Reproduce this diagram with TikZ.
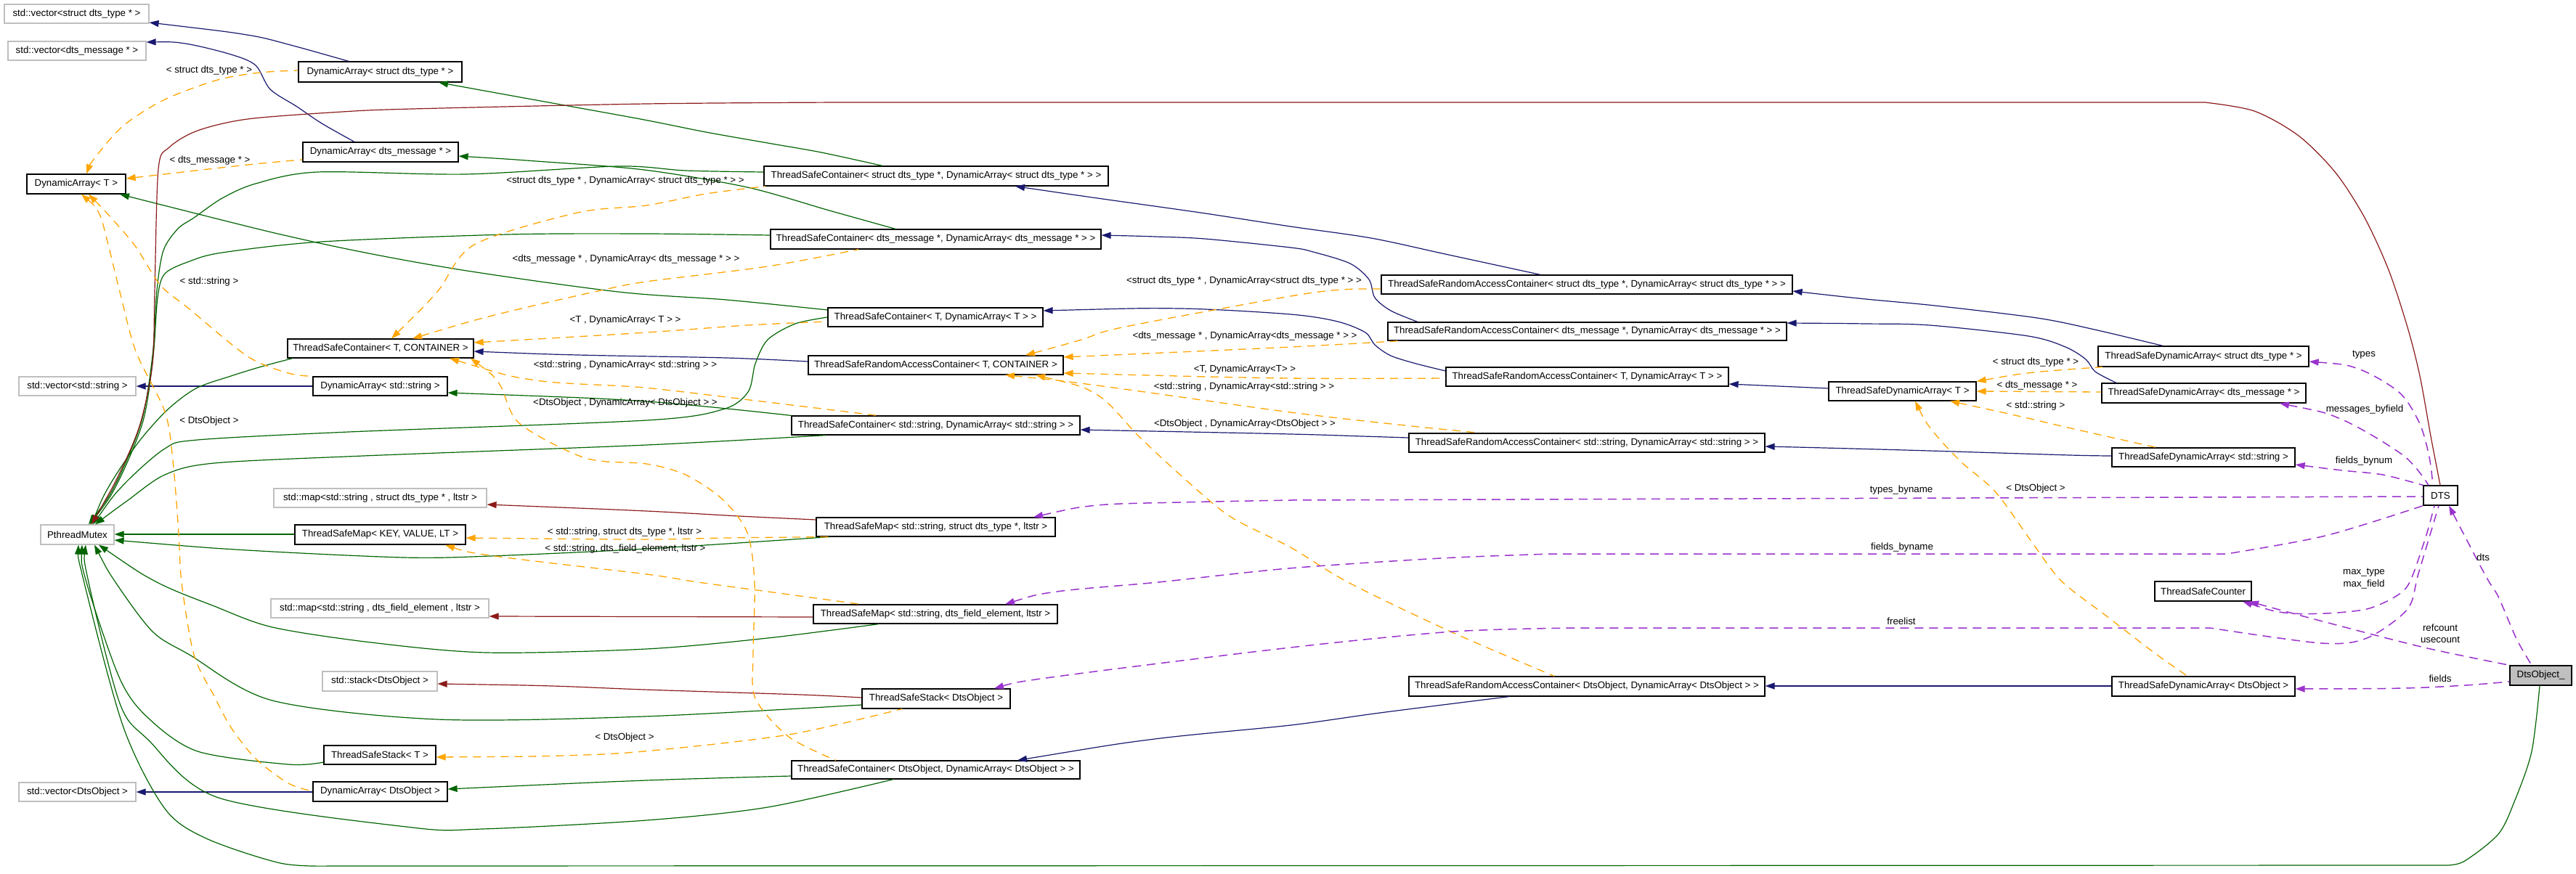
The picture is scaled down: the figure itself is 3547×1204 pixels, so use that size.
\documentclass[tikz,border=0pt]{standalone}
\usepackage{fontspec}
\setmainfont{Liberation Sans}
\usetikzlibrary{arrows.meta}
\definecolor{cblue}{HTML}{191970}
\definecolor{cgreen}{HTML}{006400}
\definecolor{cred}{HTML}{8B1A1A}
\definecolor{cpurp}{HTML}{9A32CD}
\definecolor{corange}{HTML}{FFA500}
\definecolor{cgray}{HTML}{BFBFBF}
\newcommand\dgfont{\fontsize{13.3}{15}\selectfont}
\newcommand\mkbox[7]{%
  \pgfmathsetmacro\bcx{(#3+#5)/2}\pgfmathsetmacro\bcy{(#4+#6)/2}%
  \pgfmathsetmacro\bcw{#5-#3}\pgfmathsetmacro\bch{#6-#4}%
  \node[#1, minimum width=\bcw pt, minimum height=\bch pt] (#2) at (\bcx,\bcy) {#7};}
\tikzset{
  cls/.style={draw=black, line width=1.2pt, fill=white, inner sep=0pt, font=\dgfont},
  ext/.style={cls, draw=cgray},
  mainbox/.style={cls, fill=cgray},
  lab/.style={font=\dgfont, inner sep=0pt},
  pub/.style={draw=cblue, line width=1.2pt, <-},
  prot/.style={draw=cgreen, line width=1.2pt, <-},
  priv/.style={draw=cred, line width=1.2pt, <-},
  tmpl/.style={draw=corange, line width=1.3pt, dash pattern=on 11pt off 8pt, <-},
  use/.style={draw=cpurp, line width=1.5pt, dash pattern=on 12pt off 8pt, <-},
}
\begin{document}
\begin{tikzpicture}[x=1pt,y=-1pt,>={Triangle[length=13pt,width=9pt]}]
\fill[white] (0,0) rectangle (3547,1204);
\useasboundingbox (0,0) rectangle (3547,1204);

% ---------- nodes ----------
\mkbox{ext}{vecType}{6}{6}{205}{32}{std::vector<struct dts\_type * >}
\mkbox{ext}{vecMsg}{11}{57}{201}{83}{std::vector<dts\_message * >}
\mkbox{cls}{daType}{411}{85}{636}{113}{DynamicArray< struct dts\_type * >}
\mkbox{cls}{daMsg}{417}{196}{631}{223}{DynamicArray< dts\_message * >}
\mkbox{cls}{daT}{37}{240}{173}{267}{DynamicArray< T >}
\mkbox{cls}{tscType}{1052}{229}{1526}{256}{ThreadSafeContainer< struct dts\_type *, DynamicArray< struct dts\_type * > >}
\mkbox{cls}{tscMsg}{1061}{316}{1516}{343}{ThreadSafeContainer< dts\_message *, DynamicArray< dts\_message * > >}
\mkbox{cls}{tsracType}{1902}{379}{2468}{405}{ThreadSafeRandomAccessContainer< struct dts\_type *, DynamicArray< struct dts\_type * > >}
\mkbox{cls}{tsracMsg}{1911}{444}{2460}{469}{ThreadSafeRandomAccessContainer< dts\_message *, DynamicArray< dts\_message * > >}
\mkbox{cls}{tsracT}{1991}{506}{2380}{532}{ThreadSafeRandomAccessContainer< T, DynamicArray< T > >}
\mkbox{cls}{tsdaT}{2518}{526}{2721}{552}{ThreadSafeDynamicArray< T >}
\mkbox{cls}{tsracStr}{1940}{597}{2430}{623}{ThreadSafeRandomAccessContainer< std::string, DynamicArray< std::string > >}
\mkbox{cls}{tsdaType}{2889}{477}{3179}{505}{ThreadSafeDynamicArray< struct dts\_type * >}
\mkbox{cls}{tsdaMsg}{2894}{528}{3175}{555}{ThreadSafeDynamicArray< dts\_message * >}
\mkbox{cls}{tsdaStr}{2908}{617}{3160}{643}{ThreadSafeDynamicArray< std::string >}
\mkbox{cls}{dts}{3337}{669}{3384}{696}{DTS}
\mkbox{cls}{tsCounter}{2967}{801}{3100}{828}{ThreadSafeCounter}
\mkbox{mainbox}{dtsObj}{3456}{917}{3541}{944}{DtsObject\_}
\mkbox{cls}{tsdaObj}{2908}{932}{3160}{959}{ThreadSafeDynamicArray< DtsObject >}
\mkbox{cls}{tsracObj}{1940}{932}{2430}{959}{ThreadSafeRandomAccessContainer< DtsObject, DynamicArray< DtsObject > >}
\mkbox{cls}{tsmField}{1120}{833}{1456}{859}{ThreadSafeMap< std::string, dts\_field\_element, ltstr >}
\mkbox{cls}{tssObj}{1187}{949}{1391}{976}{ThreadSafeStack< DtsObject >}
\mkbox{cls}{tscObj}{1090}{1048}{1487}{1073}{ThreadSafeContainer< DtsObject, DynamicArray< DtsObject > >}
\mkbox{ext}{mapField}{373}{825}{673}{851}{std::map<std::string , dts\_field\_element , ltstr >}
\mkbox{ext}{stackObj}{444}{925}{602}{952}{std::stack<DtsObject >}
\mkbox{cls}{tssT}{446}{1027}{600}{1053}{ThreadSafeStack< T >}
\mkbox{cls}{daObj}{431}{1077}{616}{1104}{DynamicArray< DtsObject >}
\mkbox{ext}{vecObj}{26}{1078}{187}{1104}{std::vector<DtsObject >}
\mkbox{cls}{tscTC}{396}{467}{652}{493}{ThreadSafeContainer< T, CONTAINER >}
\mkbox{ext}{vecStr}{26}{519}{187}{545}{std::vector<std::string >}
\mkbox{cls}{daStr}{431}{519}{616}{545}{DynamicArray< std::string >}
\mkbox{ext}{mapType}{377}{673}{670}{699}{std::map<std::string , struct dts\_type * , ltstr >}
\mkbox{ext}{mutex}{56}{723}{157}{750}{PthreadMutex}
\mkbox{cls}{tsmKVL}{406}{723}{641}{750}{ThreadSafeMap< KEY, VALUE, LT >}
\mkbox{cls}{tscT}{1140}{424}{1436}{450}{ThreadSafeContainer< T, DynamicArray< T > >}
\mkbox{cls}{tsracTC}{1113}{490}{1464}{516}{ThreadSafeRandomAccessContainer< T, CONTAINER >}
\mkbox{cls}{tscStr}{1090}{573}{1487}{599}{ThreadSafeContainer< std::string, DynamicArray< std::string > >}
\mkbox{cls}{tsmType}{1124}{713}{1453}{739}{ThreadSafeMap< std::string, struct dts\_type *, ltstr >}

% ---------- public inheritance (blue) ----------
\draw[pub] plot[smooth] coordinates {(vecType.east |- 0,31) (340,48) (400,62) (daType.north -| 480,0)};
\draw[pub] plot[smooth] coordinates {(vecMsg.east |- 0,58) (255,60) (318,75) (352,90) (372,123) (409,147) (443,170) (daMsg.north -| 488,0)};
\draw[pub] plot[smooth] coordinates {(tscType.south -| 1398,0) (1511,273) (1653,293) (1777,312) (1888,328) (1990,350) (tsracType.north -| 2121,0)};
\draw[pub] plot[smooth] coordinates {(tscMsg.east |- 0,324) (1591,326) (1659,329) (1777,341) (1808,347) (1859,363) (1885,385) (1893,410) (1915,428) (tsracMsg.north -| 1952,0)};
\draw[pub] plot[smooth] coordinates {(tscT.east |- 0,428) (1625,425) (1777,433) (1842,443) (1880,458) (1893,475) (1915,490) (1950,501) (tsracT.west |- 0,511)};
\draw[pub] plot[smooth] coordinates {(tscTC.east |- 0,484) (795,489) (1000,493) (tsracTC.west |- 0,498)};
\draw[pub] (vecStr.east |- 0,532) -- (daStr.west |- 0,532);
\draw[pub] plot[smooth] coordinates {(tscStr.east |- 0,592) (1777,598) (1876,601) (tsracStr.west |- 0,603)};
\draw[pub] plot[smooth] coordinates {(tscObj.north -| 1401,0) (1590,1018) (1777,999) (1900,982) (tsracObj.south -| 2078,0)};
\draw[pub] (vecObj.east |- 0,1091) -- (daObj.west |- 0,1091);
\draw[pub] (tsracT.east |- 0,529) -- (tsdaT.west |- 0,535);
\draw[pub] plot[smooth] coordinates {(tsracType.east |- 0,401) (2569,412) (2664,421) (2805,438) (2884,454) (tsdaType.north -| 2978,0)};
\draw[pub] plot[smooth] coordinates {(tsracMsg.east |- 0,445) (2569,446) (2657,448) (2793,463) (2844,478) (2872,495) (2885,512) (tsdaMsg.north -| 2914,0)};
\draw[pub] plot[smooth] coordinates {(tsracStr.east |- 0,615) (2512,617) (2657,621) (2850,627) (tsdaStr.west |- 0,628)};
\draw[pub] (tsracObj.east |- 0,945) -- (tsdaObj.west |- 0,945);

% ---------- protected inheritance (green) ----------
\draw[prot] plot[smooth] coordinates {(daType.south -| 604,0) (766,143) (887,165) (972,182) (1057,197) (1131,210) (tscType.north -| 1215,0)};
\draw[prot] plot[smooth] coordinates {(daMsg.east |- 0,215) (738,222) (887,234) (1029,258) (1142,290) (tscMsg.north -| 1233,0)};
\draw[prot] plot[smooth] coordinates {(mutex.north -| 122,0) (160,665) (195,580) (210,490) (216,400) (225,345) (245,315) (267,300) (306,273) (352,253) (437,237) (641,240) (851,229) (944,235) (tscType.west |- 0,237)};
\draw[prot] plot[smooth] coordinates {(mutex.north -| 124,0) (162,665) (197,580) (211,490) (217,410) (227,377) (261,360) (306,348) (443,333) (698,323) (890,322) (tscMsg.west |- 0,324)};
\draw[prot] plot[smooth] coordinates {(mutex.north -| 126,0) (150,670) (190,610) (230,565) (270,535) (318,518) (360,505) (tscTC.south -| 403,0)};
\draw[prot] plot[smooth] coordinates {(mutex.north -| 128,0) (170,668) (227,618) (272,606) (480,595) (890,579) (995,564) (1030,540) (1040,501) (1057,468) (1095,446) (tscT.west |- 0,437)};
\draw[prot] plot[smooth] coordinates {(mutex.north -| 131,0) (175,690) (227,654) (295,638) (500,628) (890,613) (tscStr.south -| 1137,0)};
\draw[prot] plot[smooth] coordinates {(daStr.east |- 0,541) (890,553) (tscStr.north west)};
\draw[prot] plot[smooth] coordinates {(daT.south -| 165,0) (431,333) (624,370) (851,402) (1000,413) (tscT.west |- 0,427)};
\draw[prot] (mutex.east |- 0,736) -- (tsmKVL.west |- 0,736);
\draw[prot] plot[smooth] coordinates {(mutex.east |- 0,744) (341,758) (556,768) (675,766) (890,756) (tsmType.south -| 1142,0)};
\draw[prot] plot[smooth] coordinates {(mutex.south -| 136,0) (216,802) (295,835) (375,864) (511,885) (670,899) (890,894) (1057,879) (tsmField.south -| 1210,0)};
\draw[prot] plot[smooth] coordinates {(mutex.south -| 130,0) (159,802) (210,870) (261,902) (375,965) (602,991) (887,987) (tssObj.west |- 0,971)};
\draw[prot] plot[smooth] coordinates {(mutex.south -| 113,0) (119,802) (165,935) (204,989) (272,1035) (397,1053) (tssT.west |- 0,1050)};
\draw[prot] plot[smooth] coordinates {(mutex.south -| 118,0) (122,802) (165,969) (204,1019) (301,1099) (568,1140) (664,1142) (890,1130) (1057,1112) (tscObj.south -| 1230,0)};
\draw[prot] plot[smooth] coordinates {(mutex.south -| 108,0) (116,803) (170,1002) (227,1114) (284,1155) (386,1189) (454,1193)} -- plot[smooth] coordinates {(3364,1192) (3392,1187) (3440,1149) (3463,1102) (3486,1035) (dtsObj.south -| 3497,0)};
\draw[prot] plot[smooth] coordinates {(daObj.east |- 0,1087) (890,1075) (tscObj.west |- 0,1069)};

% ---------- private inheritance (red) ----------
\draw[priv] plot[smooth] coordinates {(mutex.north -| 126,0) (165,651) (193,584) (210,501) (213,402) (218,233) (233,203) (272,180) (341,164) (471,154) (568,150) (890,143) (1157,141)} -- plot[smooth] coordinates {(3036,141) (3104,153) (3165,187) (3216,238) (3256,300) (3289,372) (3315,451) (3332,518) (3347,601) (dts.north -| 3360,0)};
\draw[priv] plot[smooth] coordinates {(mapType.east |- 0,695) (890,704) (1018,711) (tsmType.west |- 0,716)};
\draw[priv] (mapField.east |- 0,849) -- (tsmField.west |- 0,850);
\draw[priv] plot[smooth] coordinates {(stackObj.east |- 0,942) (760,945) (887,950) (1103,957) (tssObj.west |- 0,961)};

% ---------- template instances (orange) ----------
\draw[tmpl] plot[smooth] coordinates {(daT.north -| 119,0) (131,217) (170,173) (227,137) (300,110) (358,100) (daType.west |- 0,97)};
\draw[tmpl] plot[smooth] coordinates {(daT.east |- 0,246) (341,227) (daMsg.west |- 0,220)};
\draw[tmpl] plot[smooth] coordinates {(tscTC.north -| 539,0) (602,402) (653,337) (795,293) (890,283) (972,267) (tscType.south -| 1054,0)};
\draw[tmpl] plot[smooth] coordinates {(tscTC.north -| 568,0) (681,434) (823,401) (890,388) (1057,367) (tscMsg.south -| 1182,0)};
\draw[tmpl] plot[smooth] coordinates {(tscTC.east |- 0,472) (890,458) (1029,448) (tscT.west |- 0,443)};
\draw[tmpl] plot[smooth] coordinates {(tscTC.south -| 619,0) (738,524) (887,534) (1057,554) (tscStr.north -| 1208,0)};
\draw[tmpl] plot[smooth] coordinates {(tscTC.south -| 648,0) (687,528) (715,583) (806,631) (890,639) (944,654) (995,688) (1029,734) (1039,803) (1037,902) (1040,962) (1086,1015) (tscObj.north -| 1151,0)};
\draw[tmpl] plot[smooth] coordinates {(daT.south -| 122,0) (153,300) (187,340) (221,393) (260,425) (341,491) (397,514) (daStr.north west)};
\draw[tmpl] plot[smooth] coordinates {(daT.south -| 112,0) (136,293) (148,333) (165,402) (187,484) (227,567) (238,634) (246,734) (250,802) (267,902) (295,959) (318,1002) (352,1045) (397,1079) (daObj.west |- 0,1090)};
\draw[tmpl] plot[smooth] coordinates {(tsracTC.north -| 1412,0) (1489,468) (1545,451) (1777,408) (1848,399) (tsracType.west |- 0,398)};
\draw[tmpl] plot[smooth] coordinates {(tsracTC.east |- 0,492) (1777,478) (tsracMsg.south -| 1927,0)};
\draw[tmpl] plot[smooth] coordinates {(tsracTC.east |- 0,514) (1774,521) (tsracT.west |- 0,521)};
\draw[tmpl] plot[smooth] coordinates {(tsracTC.south -| 1384,0) (1511,531) (1777,568) (1944,587) (tsracStr.north -| 2038,0)};
\draw[tmpl] plot[smooth] coordinates {(tsracTC.south -| 1426,0) (1511,544) (1568,601) (1625,654) (1693,711) (1777,754) (1856,802) (1995,869) (tsracObj.north -| 2140,0)};
\draw[tmpl] plot[smooth] coordinates {(tsdaT.north east) (2800,513) (tsdaType.south -| 2895,0)};
\draw[tmpl] (tsdaT.east |- 0,539) -- (tsdaMsg.west |- 0,540);
\draw[tmpl] plot[smooth] coordinates {(tsdaT.south -| 2685,0) (2770,571) (2856,591) (tsdaStr.north -| 2969,0)};
\draw[tmpl] plot[smooth] coordinates {(tsdaT.south -| 2637,0) (2659,591) (2700,636) (2748,678) (2800,750) (2839,801) (2901,849) (2966,899) (tsdaObj.north -| 3012,0)};
\draw[tmpl] plot[smooth] coordinates {(tsmKVL.east |- 0,741) (890,743) (1000,741) (tsmType.south -| 1142,0)};
\draw[tmpl] plot[smooth] coordinates {(tsmKVL.south -| 613,0) (681,766) (890,791) (961,802) (1057,815) (tsmField.north -| 1185,0)};
\draw[tmpl] plot[smooth] coordinates {(tssT.east |- 0,1043) (772,1041) (887,1035) (1086,1012) (tssObj.south -| 1242,0)};

% ---------- usage (purple) ----------
\draw[use] plot[smooth] coordinates {(tsdaType.east |- 0,498) (3247,508) (3304,541) (3332,584) (3345,630) (dts.north -| 3350,0)};
\draw[use] plot[smooth] coordinates {(tsdaMsg.south -| 3139,0) (3225,578) (3310,628) (dts.north -| 3344,0)};
\draw[use] plot[smooth] coordinates {(tsdaStr.east |- 0,640) (3225,648) (3281,654) (dts.north west)};
\draw[use] plot[smooth] coordinates {(tsmType.north -| 1423,0) (1511,696) (1625,692) (1777,689)} -- (dts.west |- 0,684);
\draw[use] plot[smooth] coordinates {(tsmField.north -| 1384,0) (1455,815) (1595,802) (1774,783) (1984,769) (2137,763)} -- plot[smooth] coordinates {(3066,763) (3202,738) (dts.south west)};
\draw[use] plot[smooth] coordinates {(dts.south -| 3372,0) (3423,794) (3440,822) (3465,880) (dtsObj.north -| 3486,0)};
\draw[use] plot[smooth] coordinates {(tsCounter.south -| 3088,0) (3145,844) (3202,845) (3259,839) (3298,822) (3318,802) (3340,740) (dts.south -| 3352,0)};
\draw[use] plot[smooth] coordinates {(tssObj.north -| 1369,0) (1455,932) (1777,892) (2001,870) (2171,865)} -- plot[smooth] coordinates {(3043,865) (3196,886) (3259,879) (3315,839) (3330,790) (dts.south -| 3358,0)};
\draw[use] plot[smooth] coordinates {(tsCounter.south -| 3097,0) (3202,857) (3338,892) (dtsObj.north west)};
\draw[use] plot[smooth] coordinates {(tsdaObj.east |- 0,949) (3310,948) (3395,944) (dtsObj.west |- 0,939)};

% ---------- edge labels ----------
\node[lab] (l1) at (288,97) {< struct dts\_type * >};
\node[lab] (l2) at (289,221) {< dts\_message * >};
\node[lab] (l3) at (861,249) {<struct dts\_type * , DynamicArray< struct dts\_type * > >};
\node[lab] (l4) at (862,357) {<dts\_message * , DynamicArray< dts\_message * > >};
\node[lab] (l5) at (288,388) {< std::string >};
\node[lab] (l6) at (861,441) {<T , DynamicArray< T > >};
\node[lab] (l7) at (861,503) {<std::string , DynamicArray< std::string > >};
\node[lab] (l8) at (861,555) {<DtsObject , DynamicArray< DtsObject > >};
\node[lab] (l9) at (288,580) {< DtsObject >};
\node[lab] (l10) at (860,733) {< std::string, struct dts\_type *, ltstr >};
\node[lab] (l11) at (861,756) {< std::string, dts\_field\_element, ltstr >};
\node[lab] (l12) at (1713,387) {<struct dts\_type * , DynamicArray<struct dts\_type * > >};
\node[lab] (l13) at (1714,463) {<dts\_message * , DynamicArray<dts\_message * > >};
\node[lab] (l14) at (1714,509) {<T, DynamicArray<T> >};
\node[lab] (l15) at (1713,533) {<std::string , DynamicArray<std::string > >};
\node[lab] (l16) at (1714,584) {<DtsObject , DynamicArray<DtsObject > >};
\node[lab] (l17) at (860,1016) {< DtsObject >};
\node[lab] (l18) at (2618,675) {types\_byname};
\node[lab] (l19) at (2619,754) {fields\_byname};
\node[lab] (l20) at (2618,856) {freelist};
\node[lab] (l21) at (2803,499) {< struct dts\_type * >};
\node[lab] (l22) at (2805,531) {< dts\_message * >};
\node[lab] (l23) at (2803,559) {< std::string >};
\node[lab] (l24) at (2803,673) {< DtsObject >};
\node[lab] (l25) at (3255,489) {types};
\node[lab] (l26) at (3256,564) {messages\_byfield};
\node[lab] (l27) at (3255,635) {fields\_bynum};
\node[lab] (l28) at (3419,768) {dts};
\node[lab] (l29) at (3255,789) {max\_type};
\node[lab] (l30) at (3255,805) {max\_field};
\node[lab] (l31) at (3360,865) {refcount};
\node[lab] (l32) at (3360,881) {usecount};
\node[lab] (l33) at (3360,935) {fields};
\end{tikzpicture}
\end{document}
